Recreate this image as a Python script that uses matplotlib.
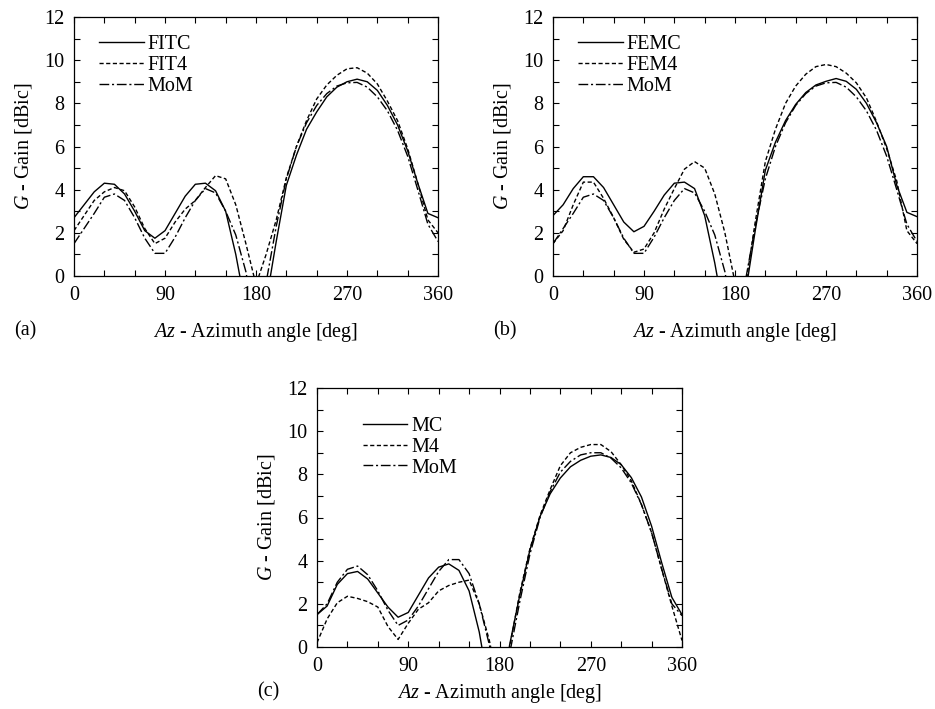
import matplotlib
matplotlib.use("Agg")
import matplotlib.pyplot as plt
import numpy as np
from matplotlib.ticker import MultipleLocator

plt.rcParams["font.family"] = ["Liberation Serif", "DejaVu Serif"]
plt.rcParams["mathtext.fontset"] = "custom"
plt.rcParams["mathtext.rm"] = "Liberation Serif"
plt.rcParams["mathtext.it"] = "Liberation Serif:italic"
plt.rcParams["font.size"] = 14.5

# azimuth grid, 10 deg steps
az = np.arange(0, 361, 10)

# panel (a)
fitc = [2.7, 3.3, 3.9, 4.3, 4.25, 3.8, 3.0, 2.1, 1.75, 2.1, 2.9, 3.7, 4.25, 4.3, 3.95, 3.0, 1.0, -1.5, -4.0,
        -1.2, 1.6, 4.2, 5.6, 6.8, 7.6, 8.3, 8.75, 9.0, 9.12, 9.0, 8.6, 7.9, 7.0, 5.8, 4.3, 2.9, 2.7]
fit4 = [2.1, 2.8, 3.5, 3.9, 4.1, 3.95, 3.2, 2.2, 1.5, 1.75, 2.5, 3.1, 3.5, 4.1, 4.65, 4.5, 3.3, 1.5, -0.4,
        1.0, 2.6, 4.55, 6.0, 7.2, 8.2, 8.85, 9.3, 9.6, 9.65, 9.4, 8.9, 8.1, 7.2, 5.9, 4.3, 2.6, 2.0]
mom_ab = [1.5, 2.2, 2.9, 3.65, 3.8, 3.5, 2.7, 1.75, 1.05, 1.05, 1.8, 2.7, 3.5, 4.05, 3.85, 3.0, 1.9, 0.2, -2.5,
          -0.3, 2.3, 4.5, 6.0, 7.1, 7.9, 8.45, 8.8, 8.95, 8.97, 8.75, 8.3, 7.65, 6.75, 5.55, 4.0, 2.4, 1.6]

# panel (b)
femc = [2.8, 3.3, 4.05, 4.6, 4.6, 4.1, 3.3, 2.5, 2.05, 2.3, 3.0, 3.75, 4.3, 4.35, 4.05, 2.8, 0.6, -2.0, -4.0,
        -0.9, 2.1, 4.9, 6.2, 7.2, 7.95, 8.5, 8.85, 9.02, 9.15, 9.02, 8.65, 8.0, 7.1, 6.0, 4.2, 2.95, 2.75]
fem4 = [1.5, 2.1, 3.3, 4.35, 4.35, 3.6, 2.7, 1.7, 1.1, 1.25, 2.0, 3.1, 4.05, 4.95, 5.3, 5.0, 3.8, 2.0, -0.3,
        -0.6, 2.5, 5.3, 6.8, 8.0, 8.8, 9.35, 9.7, 9.8, 9.7, 9.4, 8.95, 8.25, 7.15, 5.9, 4.4, 2.1, 1.5]

# panel (c)
mc = [1.5, 1.9, 2.9, 3.4, 3.5, 3.15, 2.5, 1.85, 1.38, 1.6, 2.4, 3.2, 3.7, 3.85, 3.55, 2.6, 0.7, -2.0, -3.0,
      0.1, 2.4, 4.5, 6.05, 7.1, 7.83, 8.35, 8.65, 8.84, 8.9, 8.78, 8.45, 7.85, 6.95, 5.6, 3.9, 2.3, 1.5]
m4 = [0.2, 1.3, 2.05, 2.35, 2.25, 2.1, 1.85, 0.95, 0.35, 1.1, 1.75, 2.05, 2.6, 2.85, 3.0, 3.1, 2.0, 0.3, -2.0,
      0.0, 2.5, 4.55, 6.1, 7.3, 8.4, 9.0, 9.25, 9.38, 9.38, 9.05, 8.45, 7.7, 6.6, 5.3, 3.6, 1.9, 0.3]
mom_c = [1.5, 2.0, 3.0, 3.6, 3.75, 3.35, 2.6, 1.7, 1.0, 1.25, 1.9, 2.7, 3.5, 4.05, 4.05, 3.4, 2.0, 0.1, -2.5,
         -0.3, 2.1, 4.3, 6.0, 7.2, 8.1, 8.6, 8.9, 9.0, 9.0, 8.75, 8.3, 7.6, 6.6, 5.3, 3.6, 2.0, 1.45]

STYLES = [
    dict(linestyle="-", linewidth=1.0),
    dict(linestyle=(0, (3.0, 1.8)), linewidth=1.0),
    dict(linestyle=(0, (7.0, 2.0, 1.5, 2.0)), linewidth=1.0),
]

W, H = 935, 709


def px_axes(left, top, right, bottom):
    return [left / W, 1 - bottom / H, (right - left) / W, (bottom - top) / H]


def draw_panel(fig, rect, series, labels, tag, legend_xy, xlabel_y):
    ax = fig.add_axes(rect)
    for values, label, style in zip(series, labels, STYLES):
        ax.plot(az, values, color="black", label=label, **style)

    ax.set_xlim(0, 360)
    ax.set_ylim(0, 12)
    ax.xaxis.set_major_locator(MultipleLocator(90))
    ax.xaxis.set_minor_locator(MultipleLocator(30))
    ax.yaxis.set_major_locator(MultipleLocator(2))
    ax.yaxis.set_minor_locator(MultipleLocator(1))
    ax.tick_params(which="both", direction="in", top=True, right=True, width=0.8)
    ax.tick_params(which="major", length=4, pad=7)
    ax.tick_params(which="minor", length=4)
    for spine in ax.spines.values():
        spine.set_linewidth(0.9)

    ax.set_ylabel("$G$ - Gain [dBic]")
    ax.yaxis.label.set_va("center")
    ax.yaxis.set_label_coords(-0.138, 0.5)
    ax.set_xlabel("$Az$ - Azimuth angle [deg]")
    ax.xaxis.label.set_va("top")
    ax.xaxis.set_label_coords(0.5, xlabel_y)
    ax.text(-0.165, xlabel_y, tag, transform=ax.transAxes, ha="left", va="top")

    ax.legend(loc="upper left", bbox_to_anchor=legend_xy, frameon=False,
              handlelength=2.2, handletextpad=0.2, labelspacing=0.08,
              borderpad=0, borderaxespad=0)
    return ax


fig = plt.figure(figsize=(W / 100, H / 100), dpi=100)

draw_panel(fig, px_axes(74, 17, 438, 276), [fitc, fit4, mom_ab], ["FITC", "FIT4", "MoM"],
           "(a)", (0.07, 0.93), -0.175)
draw_panel(fig, px_axes(553, 17, 917, 276), [femc, fem4, mom_ab], ["FEMC", "FEM4", "MoM"],
           "(b)", (0.07, 0.93), -0.175)
draw_panel(fig, px_axes(317, 388, 682, 647), [mc, m4, mom_c], ["MC", "M4", "MoM"],
           "(c)", (0.126, 0.888), -0.135)

fig.savefig("out.png", dpi=100)
